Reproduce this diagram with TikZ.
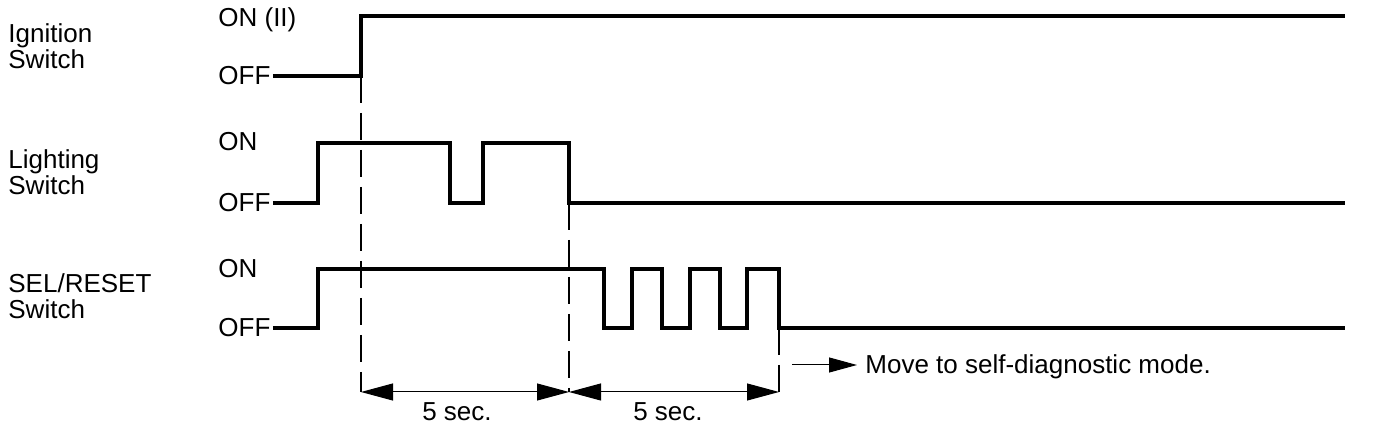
\documentclass[tikz,border=0pt]{standalone}
\usepackage{fontspec}
\setmainfont{Liberation Sans}
\usetikzlibrary{arrows.meta}
\begin{document}
\begin{tikzpicture}[x=0.5pt,y=-0.5pt,
  lbl/.style={inner sep=0pt,align=left,font=\fontsize{13}{13}\selectfont},
  lvl/.style={inner sep=0pt,font=\fontsize{13}{13}\selectfont},
  sig/.style={line width=1.9pt,line join=miter},
  guide/.style={line width=0.7pt,dash pattern=on 13.5pt off 5pt},
  dim/.style={line width=0.5pt,{Triangle[length=16pt,width=8.5pt]}-{Triangle[length=16pt,width=8.5pt]}},
  pointer/.style={line width=0.5pt,-{Triangle[length=14pt,width=7.5pt]}}]
\useasboundingbox (0,0) rectangle (1376,432);
% row titles
\node[lbl,anchor=north west] (ign) at (8,23) {Ignition\\Switch};
\node[lbl,anchor=north west] (lig) at (8,149) {Lighting\\Switch};
\node[lbl,anchor=north west] (sel) at (8,273) {SEL/RESET\\Switch};
% level labels
\node[lvl,anchor=base west] (ion) at (218,27) {ON (II)};
\node[lvl,anchor=west] (ioff) at (218,76) {OFF};
\node[lvl,anchor=base west] (lon) at (218,151) {ON};
\node[lvl,anchor=west] (loff) at (218,203) {OFF};
\node[lvl,anchor=base west] (son) at (218,278) {ON};
\node[lvl,anchor=west] (soff) at (218,328) {OFF};
% waveforms
\draw[sig] ([xshift=1pt]ioff.east) -- (361,76) -- (361,16) -- (1345,16);
\draw[sig] ([xshift=1pt]loff.east) -- (318,203) -- (318,143) -- (450,143) -- (450,203)
  -- (483,203) -- (483,143) -- (569,143) -- (569,203) -- (1345,203);
\draw[sig] ([xshift=1pt]soff.east) -- (318,328) -- (318,269) -- (604,269) -- (604,328)
  -- (632,328) -- (632,269) -- (662,269) -- (662,328)
  -- (690,328) -- (690,269) -- (720,269) -- (720,328)
  -- (747,328) -- (747,269) -- (779,269) -- (779,328) -- (1345,328);
% guide lines
\coordinate (g1) at (361,76);
\coordinate (g2) at (569,203);
\coordinate (g3) at (779,328);
\coordinate (d1) at (361,392);
\coordinate (d2) at (569,392);
\coordinate (d3) at (779,392);
\draw[guide] (g1) -- (d1);
\draw[guide] (g2) -- (d2);
\draw[guide] (g3) -- (d3);
% dimensions
\draw[dim] (d1) -- (d2);
\draw[dim] (d2) -- (d3);
\node[lvl] (s1) at (457,412) {5 sec.};
\node[lvl] (s2) at (668,412) {5 sec.};
% note
\coordinate (m0) at (792,365);
\node[lvl,anchor=base west] (move) at (865,374) {Move to self-diagnostic mode.};
\draw[pointer] (m0) -- ([xshift=-4pt]m0 -| move.west);
\end{tikzpicture}
\end{document}
